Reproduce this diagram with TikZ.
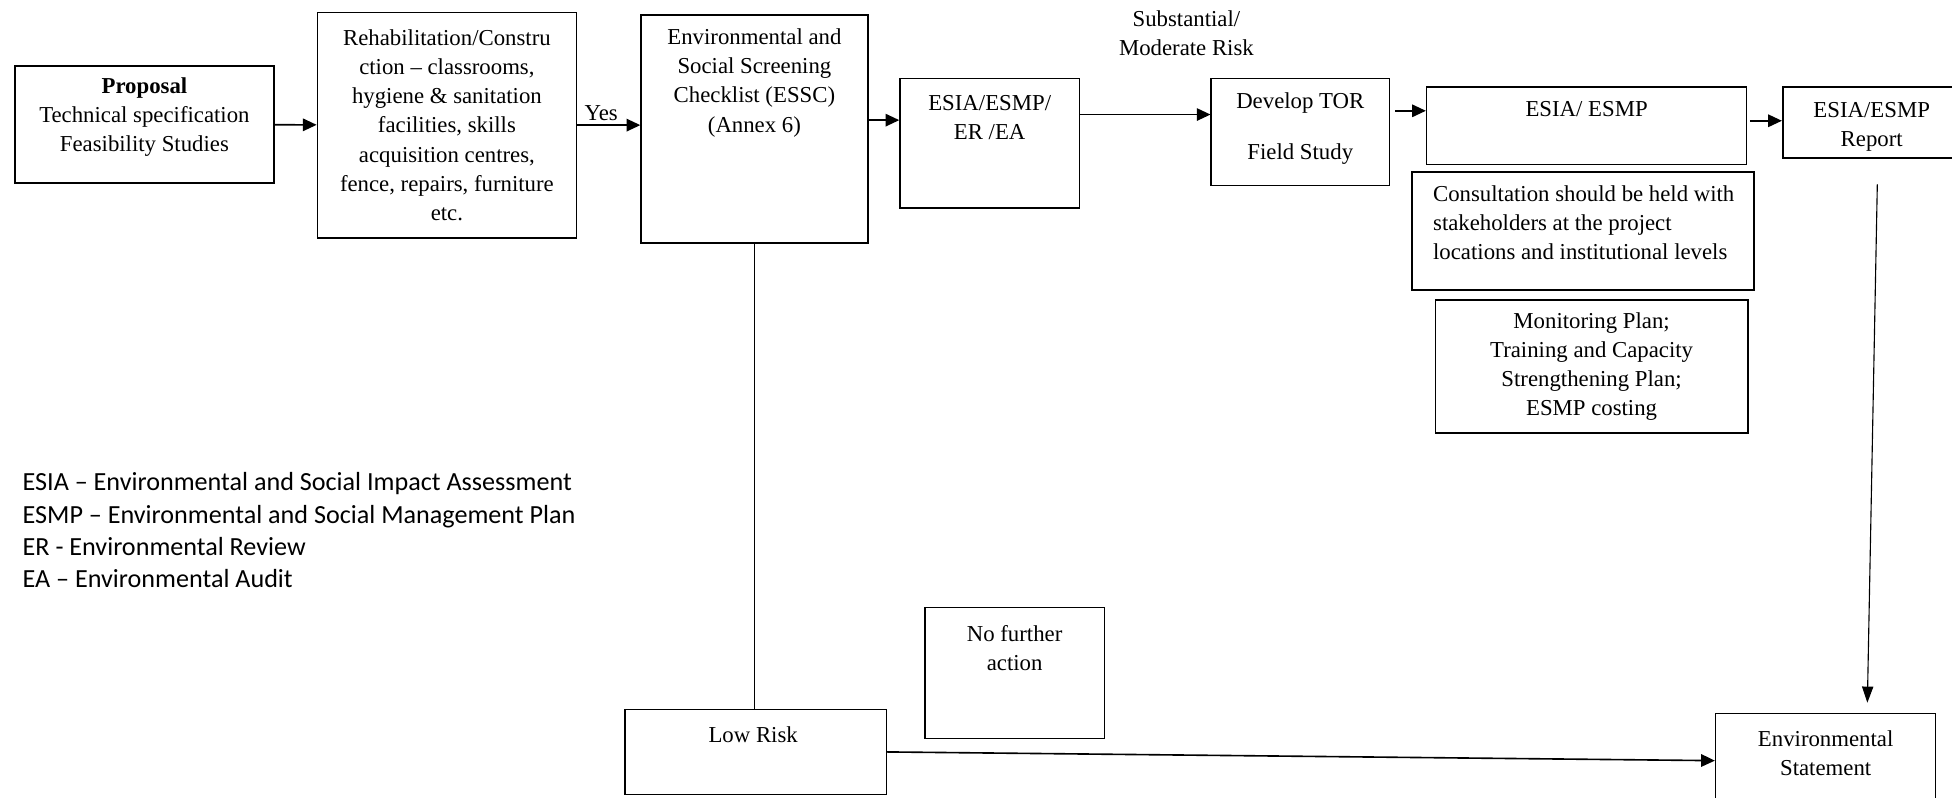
\documentclass[tikz,border=0pt]{standalone}
\usepackage{fontspec}
\setmainfont{Liberation Serif}
\newfontfamily\legendfont{Carlito}
\usetikzlibrary{arrows.meta}

\begin{document}
\begin{tikzpicture}[x=1pt, y=-1pt,
    box/.style={draw, line width=1.3pt, inner sep=0pt},
    thinbox/.style={draw, line width=1pt, inner sep=0pt},
    txt/.style={align=center, inner sep=0pt, font=\fontsize{18.3}{23.5}\selectfont},
    flow/.style={line width=1.3pt, -{Triangle[length=11pt, width=10pt]}},
    thinflow/.style={line width=0.9pt, -{Triangle[length=13pt, width=9pt]}}]
      \useasboundingbox (0,0) rectangle (1568,641);

        \node[box, minimum width=208, minimum height=94] (prop) at (116,100) {};
        \node[box, minimum width=208, minimum height=181] (rehab) at (359,100.5) {};
        \node[box, minimum width=182, minimum height=183] (essc) at (606,103.5) {};
        \node[box, minimum width=144, minimum height=104] (esia) at (795,115) {};
        \node[box, minimum width=143, minimum height=86] (tor) at (1044.5,106) {};
        \node[box, minimum width=257, minimum height=62] (esmp) at (1274.5,101) {};
        \node[box, minimum width=143, minimum height=57] (report) at (1503.5,98.5) {};
        \node[box, minimum width=275, minimum height=95] (consult) at (1271.5,185.5) {};
        \node[box, minimum width=251, minimum height=107] (monit) at (1278.5,294.5) {};
        \node[thinbox, minimum width=144, minimum height=105] (nofurther) at (815,540.5) {};
        \node[thinbox, minimum width=210, minimum height=68] (low) at (607,604) {};
        \node[thinbox, minimum width=177, minimum height=72] (stmt) at (1466.5,609) {};

        \node[txt] (prop-t) at (116,94) {\textbf{Proposal}\\Technical specification\\Feasibility Studies};
        \node[txt] (rehab-t) at (359,100.5) {Rehabilitation/Constru\\ction -- classrooms,\\hygiene \& sanitation\\facilities, skills\\acquisition centres,\\fence, repairs, furniture\\etc.};
        \node[txt] (essc-t) at (606,66.5) {Environmental and\\Social Screening\\Checklist (ESSC)\\(Annex 6)};
        \node[txt] (esia-t) at (795,94.5) {ESIA/ESMP/\\ER /EA};
        \node[txt] (tor-t) at (1044.5,103.5) {Develop TOR\\[17.5pt]Field Study};
        \node[txt] (esmp-t) at (1274.5,88) {ESIA/ ESMP};
        \node[txt] (report-t) at (1503.5,102) {ESIA/ESMP\\Report};
        \node[txt, anchor=west, align=left] (consult-t) at (1151,179) {Consultation should be held with\\stakeholders at the project\\locations and institutional levels};
        \node[txt] (monit-t) at (1278.5,294.5) {Monitoring Plan;\\Training and Capacity\\Strengthening Plan;\\ESMP costing};
        \node[txt] (nofurther-t) at (815,520.5) {No further\\action};
        \node[txt] (low-t) at (605,590) {Low Risk};
        \node[txt] (stmt-t) at (1466.5,605) {Environmental\\Statement};
        \node[txt] (risk) at (953,26.5) {Substantial/\\Moderate Risk};

        \node[anchor=west, align=left, inner sep=0pt, font=\legendfont\fontsize{21}{26}\selectfont] (legend) at (18,426)
          {ESIA – Environmental and Social Impact Assessment\\ESMP – Environmental and Social Management Plan\\ER - Environmental Review\\EA – Environmental Audit};

        \draw[flow] (prop) -- (rehab);
        \draw[flow] (rehab.east) -- (rehab.east -| essc.west) node[txt, pos=0.38, above=3pt] (yes) {Yes};
        \draw[flow] ([yshift=7pt]essc.east) -- ([yshift=7pt]essc.east -| esia.west);
        \draw[flow] ([yshift=23pt]esia.east) -- ([yshift=23pt]esia.east -| tor.west);
        \draw[flow] ([xshift=4pt, yshift=17pt]tor.east) -- ([yshift=17pt]tor.east -| esmp.west);
        \draw[flow] ([xshift=2pt, yshift=4pt]esmp.east) -- ([yshift=4pt]esmp.east -| report.west);
        \coordinate (rep-out) at (1508,148);
        \draw[thinflow] (rep-out) -- ([xshift=33.5pt, yshift=8pt]stmt.north);
        \draw[line width=0.9pt] (essc.south) -- (essc.south |- low.north);
        \draw[flow] (low.east) -- ([yshift=-2pt]stmt.west);
      \end{tikzpicture}
\end{document}
